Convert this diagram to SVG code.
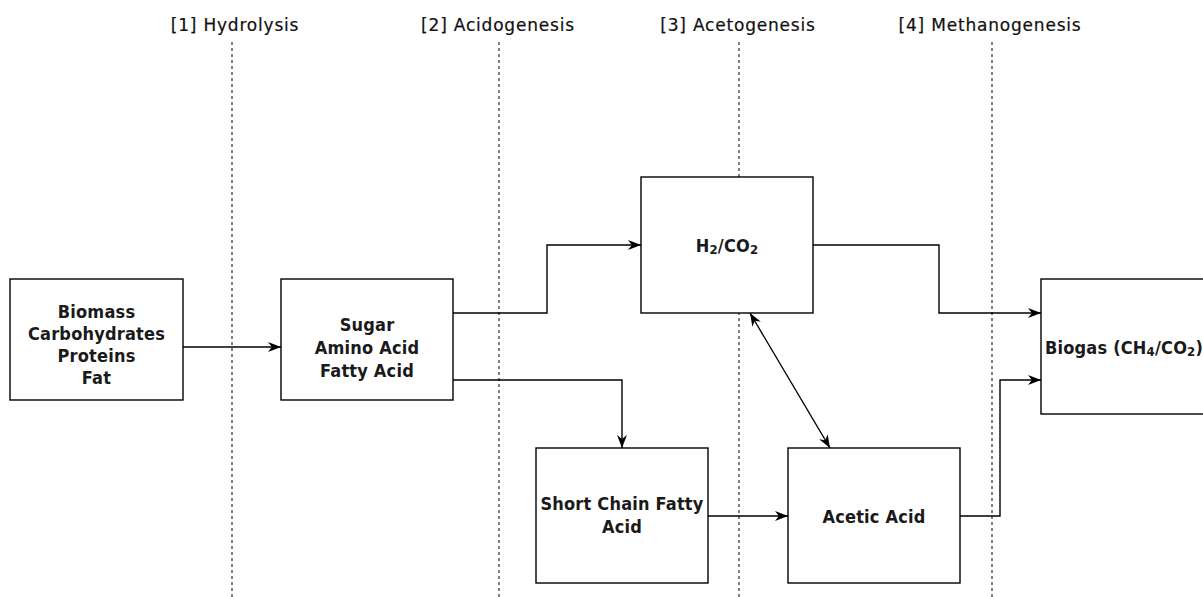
<svg xmlns="http://www.w3.org/2000/svg" width="1203" height="597" viewBox="0 0 1203 597">
  <defs>
    <marker id="arrow" viewBox="0 0 10 10" refX="10" refY="5" markerWidth="13" markerHeight="11" preserveAspectRatio="none" markerUnits="userSpaceOnUse" orient="auto-start-reverse">
      <path d="M0,0.5 L10,5 L0,9.5 L3,5 Z" fill="#000"/>
    </marker>
    <style>
      .stage { font-family: "DejaVu Sans", sans-serif; font-size: 17px; letter-spacing: 0.8px; fill: #111; stroke: #111; stroke-width: 0.2; text-anchor: middle; }
      .divider { stroke: #000; stroke-width: 1; stroke-dasharray: 3 3; fill: none; }
      .box { fill: #fff; stroke: #000; stroke-width: 1.4; }
      .label { font-family: "DejaVu Sans Condensed", "DejaVu Sans", sans-serif; font-size: 18px; font-weight: bold; letter-spacing: 0.2px; fill: #1a1a1a; text-anchor: middle; dominant-baseline: central; }
      .sub { font-size: 13px; }
      .link { stroke: #000; stroke-width: 1.4; fill: none; }
    </style>
  </defs>
  <rect width="1203" height="597" fill="#fff"/>

  <!-- stage headings and dividers -->
  <g id="stages">
    <text class="stage" x="235" y="31">[1] Hydrolysis</text>
    <text class="stage" x="498" y="31">[2] Acidogenesis</text>
    <text class="stage" x="738" y="31">[3] Acetogenesis</text>
    <text class="stage" x="990" y="31">[4] Methanogenesis</text>
    <line class="divider" x1="232" y1="42" x2="232" y2="597"/>
    <line class="divider" x1="499" y1="42" x2="499" y2="597"/>
    <line class="divider" x1="739" y1="42" x2="739" y2="597"/>
    <line class="divider" x1="992" y1="42" x2="992" y2="597"/>
  </g>

  <g id="biomass">
    <rect class="box" x="10" y="279" width="173" height="121"/>
    <text class="label" x="96.5" y="311">Biomass</text>
    <text class="label" x="96.5" y="333">Carbohydrates</text>
    <text class="label" x="96.5" y="355">Proteins</text>
    <text class="label" x="96.5" y="377">Fat</text>
  </g>

  <g id="monomers">
    <rect class="box" x="281" y="279" width="172" height="121"/>
    <text class="label" x="367" y="324">Sugar</text>
    <text class="label" x="367" y="347">Amino Acid</text>
    <text class="label" x="367" y="370">Fatty Acid</text>
  </g>

  <g id="hydrogen">
    <rect class="box" x="641" y="177" width="172" height="136"/>
    <text class="label" x="727" y="245">H<tspan class="sub" dy="4">2</tspan><tspan dy="-4">/CO</tspan><tspan class="sub" dy="4">2</tspan></text>
  </g>

  <g id="biogas">
    <rect class="box" x="1041" y="279" width="172" height="135"/>
    <text class="label" x="1124" y="347" letter-spacing="0">Biogas (CH<tspan class="sub" dy="4">4</tspan><tspan dy="-4">/CO</tspan><tspan class="sub" dy="4">2</tspan><tspan dy="-4">)</tspan></text>
  </g>

  <g id="scfa">
    <rect class="box" x="536" y="448" width="172" height="135"/>
    <text class="label" x="622" y="503">Short Chain Fatty</text>
    <text class="label" x="622" y="526">Acid</text>
  </g>

  <g id="acetic">
    <rect class="box" x="788" y="448" width="172" height="135"/>
    <text class="label" x="874" y="516">Acetic Acid</text>
  </g>

  <g id="connectors">
    <path class="link" d="M183,347 H281" marker-end="url(#arrow)"/>
    <path class="link" d="M453,313 H547 V245 H641" marker-end="url(#arrow)"/>
    <path class="link" d="M453,380 H622 V448" marker-end="url(#arrow)"/>
    <path class="link" d="M813,245 H939 V313 H1041" marker-end="url(#arrow)"/>
    <path class="link" d="M708,516 H788" marker-end="url(#arrow)"/>
    <path class="link" d="M960,516 H1000 V380 H1041" marker-end="url(#arrow)"/>
    <path class="link" d="M750,313 L830,448" marker-start="url(#arrow)" marker-end="url(#arrow)"/>
  </g>
</svg>
